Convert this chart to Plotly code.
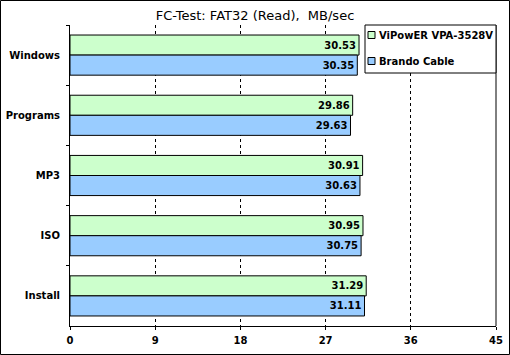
import plotly.graph_objects as go

categories = ["Windows", "Programs", "MP3", "ISO", "Install"]
series_names = ["ViPowER VPA-3528V", "Brando Cable"]
vipower = [30.53, 29.86, 30.91, 30.95, 31.29]
brando = [30.35, 29.63, 30.63, 30.75, 31.11]
x_ticks = [0, 9, 18, 27, 36, 45]
colors = ["#CCFFCC", "#99CCFF"]
title_text = "FC-Test: FAT32 (Read),  MB/sec"

W, H = 510, 355
L, R, T, B = 70, 14, 25, 29
PW, PH = W - L - R, H - T - B
FONT = "DejaVu Sans"


def px(xp):
    return (xp - L) / PW


def py(yp):
    return (H - B - yp) / PH


fig = go.Figure()
for name, vals, col in zip(series_names, [vipower, brando], colors):
    fig.add_trace(go.Bar(
        y=categories, x=vals, name=name, orientation="h",
        marker=dict(color=col, line=dict(color="black", width=1)),
        text=[f"{v:.2f}" for v in vals], textposition="inside",
        insidetextanchor="end", textangle=0,
        textfont=dict(family=FONT, size=10, color="black", weight="bold"),
        showlegend=False, cliponaxis=False,
    ))

shapes = [
    # outer frame
    dict(type="rect", xref="paper", yref="paper",
         x0=px(0.5), x1=px(W - 0.5), y0=py(H - 0.5), y1=py(0.5),
         line=dict(color="black", width=1), fillcolor="rgba(0,0,0,0)", layer="above"),
    # right border of plot
    dict(type="line", xref="paper", yref="paper", x0=1, x1=1, y0=0, y1=1,
         line=dict(color="black", width=1), layer="above"),
    # legend box
    dict(type="rect", xref="paper", yref="paper",
         x0=px(365), x1=1, y0=py(73), y1=1,
         line=dict(color="black", width=1), fillcolor="white", layer="above"),
]
annotations = []
legend_y = [35, 61]
for name, col, ly in zip(series_names, colors, legend_y):
    shapes.append(dict(type="rect", xref="paper", yref="paper",
                       x0=px(368), x1=px(375), y0=py(ly + 3.5), y1=py(ly - 3.5),
                       line=dict(color="black", width=1), fillcolor=col, layer="above"))
    annotations.append(dict(text=name, xref="paper", yref="paper", x=px(377), y=py(ly),
                            xanchor="left", yanchor="middle", showarrow=False,
                            font=dict(family=FONT, size=10, color="black", weight="bold")))

fig.update_layout(
    width=W, height=H, autosize=False,
    margin=dict(l=L, r=R, t=T, b=B, pad=0, autoexpand=False),
    paper_bgcolor="white", plot_bgcolor="white",
    barmode="group", bargap=1/3, bargroupgap=0,
    title=dict(text=title_text, x=0.5, xanchor="center", xref="container",
               y=1 - 15 / H, yanchor="middle", yref="container", automargin=False,
               font=dict(family=FONT, size=13, color="black")),
    xaxis=dict(range=[0, 45], tickvals=x_ticks, showline=True, linecolor="black", linewidth=1,
               ticks="outside", ticklen=3, tickcolor="black", automargin=False,
               showgrid=True, gridcolor="black", gridwidth=1, griddash="3px,3px",
               zeroline=False, fixedrange=True, ticklabelstandoff=2,
               tickfont=dict(family=FONT, size=10, color="black", weight="bold")),
    yaxis=dict(autorange="reversed", type="category", showline=True, linecolor="black", linewidth=1,
               ticks="outside", ticklen=3, tickcolor="black", tickson="boundaries",
               showgrid=False, zeroline=False, ticklabelstandoff=7, automargin=False,
               tickfont=dict(family=FONT, size=10, color="black", weight="bold")),
    shapes=shapes, annotations=annotations,
)

fig.write_html("out.html", config={"displayModeBar": False},
               post_script="document.body.style.margin='0';document.body.style.overflow='hidden';")
